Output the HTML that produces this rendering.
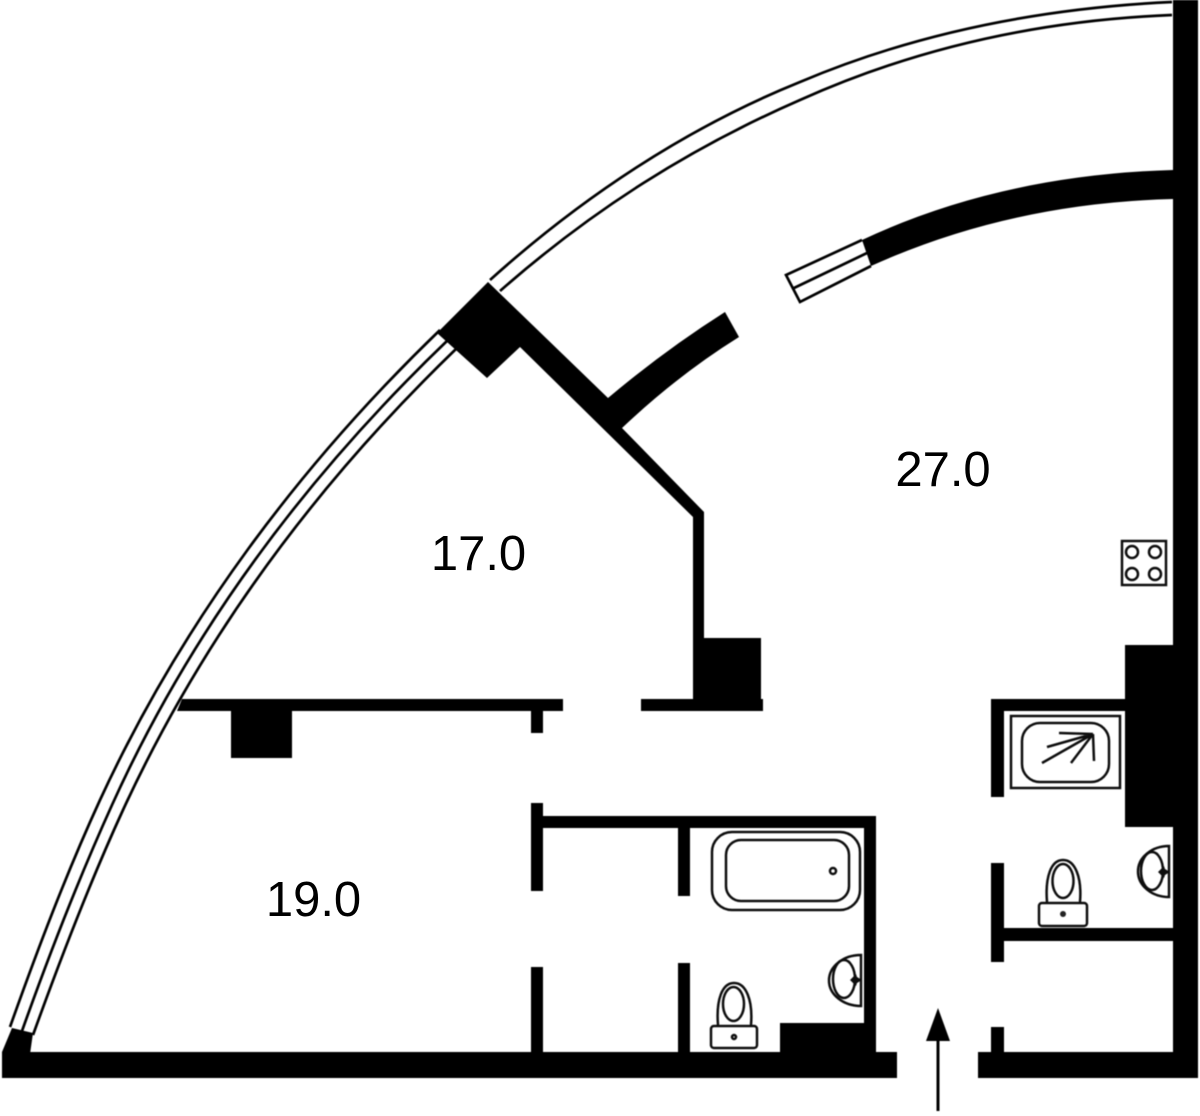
<!DOCTYPE html>
<html>
<head>
<meta charset="utf-8">
<style>
html,body{margin:0;padding:0;background:#fff;}
svg{display:block;}
text{font-family:"Liberation Sans",sans-serif;font-size:49px;fill:#000;text-anchor:middle;}
.l{fill:none;stroke:#000;stroke-width:2.7;}
.t{fill:none;stroke:#111;stroke-width:2.5;}
</style>
</head>
<body>
<svg width="1200" height="1116" viewBox="0 0 1200 1116" xmlns="http://www.w3.org/2000/svg">
<defs><filter id="b" x="-2%" y="-2%" width="104%" height="104%"><feGaussianBlur stdDeviation="0.5"/></filter></defs>
<rect width="1200" height="1116" fill="#fff"/>
<g filter="url(#b)">
<!-- curved window lines, upper -->
<path class="l" d="M1172 2C1045 8 918 32 800 82C686 128 581 198 490 280"/>
<path class="l" d="M1172 15C1045 20 920 46 800 100C690 148 592 210 500 291"/>
<!-- curved window lines, lower -->
<path class="l" d="M440 330C300 465 182 622 100 800C66 874 37 951 10 1027"/>
<path class="l" d="M449 339C309 473 192 628 112 805C78 880 49 955 22 1031"/>
<path class="l" d="M457 348C319 481 204 634 123 810C89 884 60 960 33 1035"/>

<g fill="#000">
<!-- outer walls -->
<rect x="1173" y="0" width="25" height="1078"/>
<rect x="978" y="1052" width="220" height="26"/>
<rect x="2" y="1052" width="895" height="26"/>
<polygon points="12,1028 33,1033 30,1054 2,1054 2,1052"/>
<!-- central angled wall + pier + curved stub -->
<path d="M488 282L608 398Q665 350 725 312L739 337Q678 375 622 428L704 512V638H761V699H763V711H641V699H693V517L520 347L487 378L437 333Z"/>
<!-- upper curved wall -->
<path d="M1173 170Q1000 175 862 240L871 266Q1010 203 1173 199Z"/>
<!-- left horizontal wall -->
<polygon points="182,699 563,699 563,711 177,711"/>
<rect x="231" y="700" width="61" height="58"/>
<rect x="531" y="705" width="12" height="28"/>
<!-- bathroom walls -->
<rect x="531" y="803" width="12" height="88"/>
<rect x="531" y="967" width="12" height="90"/>
<rect x="531" y="816" width="345" height="12"/>
<rect x="864" y="816" width="12" height="240"/>
<rect x="678" y="820" width="12" height="76"/>
<rect x="678" y="963" width="12" height="92"/>
<rect x="780" y="1023" width="90" height="32"/>
<!-- right block and service rooms -->
<rect x="1125" y="645" width="50" height="182"/>
<rect x="991" y="699" width="136" height="12"/>
<rect x="991" y="699" width="13" height="98"/>
<rect x="991" y="863" width="13" height="99"/>
<rect x="995" y="928" width="180" height="13"/>
<rect x="991" y="1027" width="13" height="28"/>
</g>

<!-- window end on upper curved wall -->
<path class="l" fill="#fff" d="M862 240L786 275L800 302L871 266"/>
<path class="l" d="M867 253L794 288"/>

<!-- cooktop -->
<rect class="t" x="1122" y="541" width="44" height="44"/>
<circle class="t" cx="1132" cy="552" r="6"/>
<circle class="t" cx="1155" cy="552" r="6"/>
<circle class="t" cx="1132" cy="574" r="6"/>
<circle class="t" cx="1155" cy="574" r="6"/>

<!-- shower -->
<rect class="t" x="1011" y="716" width="109" height="72"/>
<rect class="t" x="1022" y="723" width="87" height="59" rx="18"/>
<path class="t" d="M1093 734L1059 733M1093 734L1047 747M1093 734L1042 763M1093 734L1071 763M1093 734L1094 761"/>

<!-- bathtub -->
<rect class="t" x="712" y="832" width="148" height="78" rx="20"/>
<rect class="t" x="726" y="840" width="123" height="61" rx="15"/>
<circle class="t" cx="833" cy="871" r="3"/>

<!-- sink 1 -->
<path class="t" d="M861 955A32 25.5 0 0 0 861 1006Z"/>
<ellipse class="t" cx="844" cy="979" rx="11" ry="19"/>
<path d="M850 980L856 974L857 977L862 980L857 983L856 986Z" fill="#111"/>

<!-- toilet 1 -->
<rect class="t" x="711" y="1026" width="46" height="22" rx="3"/>
<circle class="t" cx="734" cy="1037" r="2"/>
<path class="t" d="M718 1025C716 1000 722 983 734 983C746 983 753 1000 751 1025"/>
<ellipse class="t" cx="733.500" cy="1004" rx="10.500" ry="17"/>

<!-- sink 2 -->
<path class="t" d="M1169 846A31 25.5 0 0 0 1169 897Z"/>
<ellipse class="t" cx="1152" cy="871" rx="11" ry="19"/>
<path d="M1158 872L1164 866L1165 869L1170 872L1165 875L1164 878Z" fill="#111"/>

<!-- toilet 2 -->
<rect class="t" x="1039" y="903" width="48" height="23" rx="3"/>
<circle cx="1063" cy="914" r="3" fill="#222"/>
<path class="t" d="M1047 902C1045 877 1051 860 1063 860C1075 860 1082 877 1080 902"/>
<ellipse class="t" cx="1063" cy="881" rx="10.500" ry="17"/>

<!-- entrance arrow -->
<rect x="936.500" y="1038" width="3" height="73" fill="#000"/>
<polygon points="938,1008 950,1041 926,1041" fill="#000"/>
</g>

<text x="943" y="486">27.0</text>
<text x="478.500" y="570">17.0</text>
<text x="313.500" y="916">19.0</text>
</svg>
</body>
</html>
